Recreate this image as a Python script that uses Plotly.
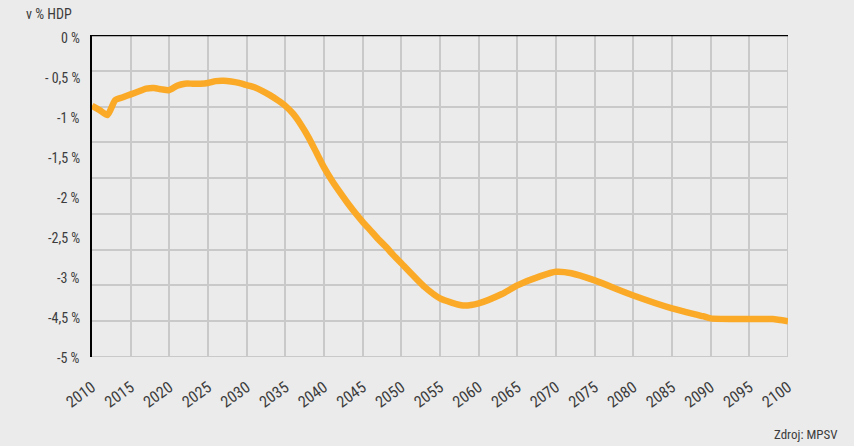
import plotly.graph_objects as go

years = [2010, 2011, 2012, 2013, 2014, 2015, 2016, 2017, 2018, 2019, 2020,
         2021, 2022, 2023, 2024, 2025, 2026, 2027, 2028, 2029, 2030,
         2031, 2032, 2033, 2034, 2035, 2036, 2037, 2038, 2039, 2040,
         2041, 2042, 2043, 2044, 2045, 2046, 2047, 2048, 2049, 2050,
         2053, 2055, 2058, 2060, 2063, 2065, 2068, 2070, 2072, 2075,
         2080, 2085, 2089, 2090, 2095, 2098, 2100]
saldo = [-0.99, -1.05, -1.12, -0.91, -0.87, -0.83, -0.79, -0.75, -0.74, -0.76, -0.77,
         -0.71, -0.68, -0.68, -0.68, -0.67, -0.645, -0.64, -0.65, -0.67, -0.70,
         -0.73, -0.78, -0.84, -0.91, -0.99, -1.10, -1.25, -1.43, -1.64, -1.85,
         -2.03, -2.19, -2.34, -2.48, -2.61, -2.73, -2.85, -2.96, -3.08, -3.19,
         -3.52, -3.68, -3.78, -3.75, -3.62, -3.50, -3.37, -3.31, -3.33, -3.43,
         -3.64, -3.82, -3.93, -3.96, -3.97, -3.97, -4.00]

x_ticks = list(range(2010, 2101, 5))
y_grid = [0, -0.5, -1, -1.5, -2, -2.5, -3, -3.5, -4, -4.5]
y_labels = ["0 %", "- 0,5 %", "-1 %", "-1,5 %", "-2 %", "-2,5 %", "-3 %", "-4,5 %", "-5 %"]

FONT = "Liberation Sans Narrow, Roboto Condensed, Arial Narrow, Liberation Sans, sans-serif"
BG = "#EBEBEB"
GRID = "#C9C9C9"
TXT = "#3C3C3C"

fig = go.Figure()
fig.add_trace(go.Scatter(
    x=years, y=saldo, mode="lines",
    line=dict(color="#FBAA27", width=6.5, shape="spline", smoothing=0.6),
    hoverinfo="skip", showlegend=False))

W, H = 854, 446
L, R, T, B = 92, 66, 35, 89
ph = H - T - B

annotations = []
for k, lab in enumerate(y_labels):
    py = 38 + 40 * k
    annotations.append(dict(
        text=lab, xref="paper", yref="paper", x=0, xshift=-10, xanchor="right",
        y=1 - (py - T) / ph, yanchor="middle", showarrow=False,
        font=dict(family=FONT, size=14, color=TXT)))
annotations.append(dict(
    text="v % HDP", xref="paper", yref="paper", x=0, xshift=-68, xanchor="left",
    y=1 - (14 - T) / ph, yanchor="middle", showarrow=False,
    font=dict(family=FONT, size=14, color=TXT)))
annotations.append(dict(
    text="Zdroj: MPSV", xref="paper", yref="paper", x=1, xshift=52, xanchor="right",
    y=1 - (434 - T) / ph, yanchor="middle", showarrow=False,
    font=dict(family=FONT, size=13, color=TXT)))

shapes = [
    dict(type="line", xref="paper", yref="y", x0=0, x1=1, y0=-4.5, y1=-4.5,
         line=dict(color=GRID, width=2), layer="below"),
    dict(type="line", xref="x", yref="paper", x0=2100, x1=2100, y0=0, y1=1,
         line=dict(color=GRID, width=2), layer="below"),
    dict(type="line", xref="paper", yref="y", x0=0, x1=1, y0=0, y1=0,
         line=dict(color="black", width=2.5), layer="above"),
]

fig.update_layout(
    width=W, height=H,
    margin=dict(l=L, r=R, t=T, b=B, pad=0),
    paper_bgcolor=BG, plot_bgcolor=BG,
    font=dict(family=FONT, size=14, color=TXT),
    xaxis=dict(range=[2010, 2100], tickvals=x_ticks, ticktext=[str(v) for v in x_ticks],
               tickangle=-36, showgrid=True, gridcolor=GRID, gridwidth=2,
               zeroline=False, showline=False, ticks="outside", ticklen=14,
               tickcolor="rgba(0,0,0,0)", tickfont=dict(family=FONT, size=16, color=TXT),
               fixedrange=True),
    yaxis=dict(range=[-4.5, 0], tickvals=y_grid, showticklabels=False,
               showgrid=True, gridcolor=GRID, gridwidth=2, zeroline=False,
               showline=True, linecolor="black", linewidth=1.5, ticks="",
               fixedrange=True),
    annotations=annotations, shapes=shapes,
)

fig.write_html(
    "out.html",
    config={"displayModeBar": False},
    post_script="document.body.style.margin='0';document.body.style.background='#EBEBEB';",
)
